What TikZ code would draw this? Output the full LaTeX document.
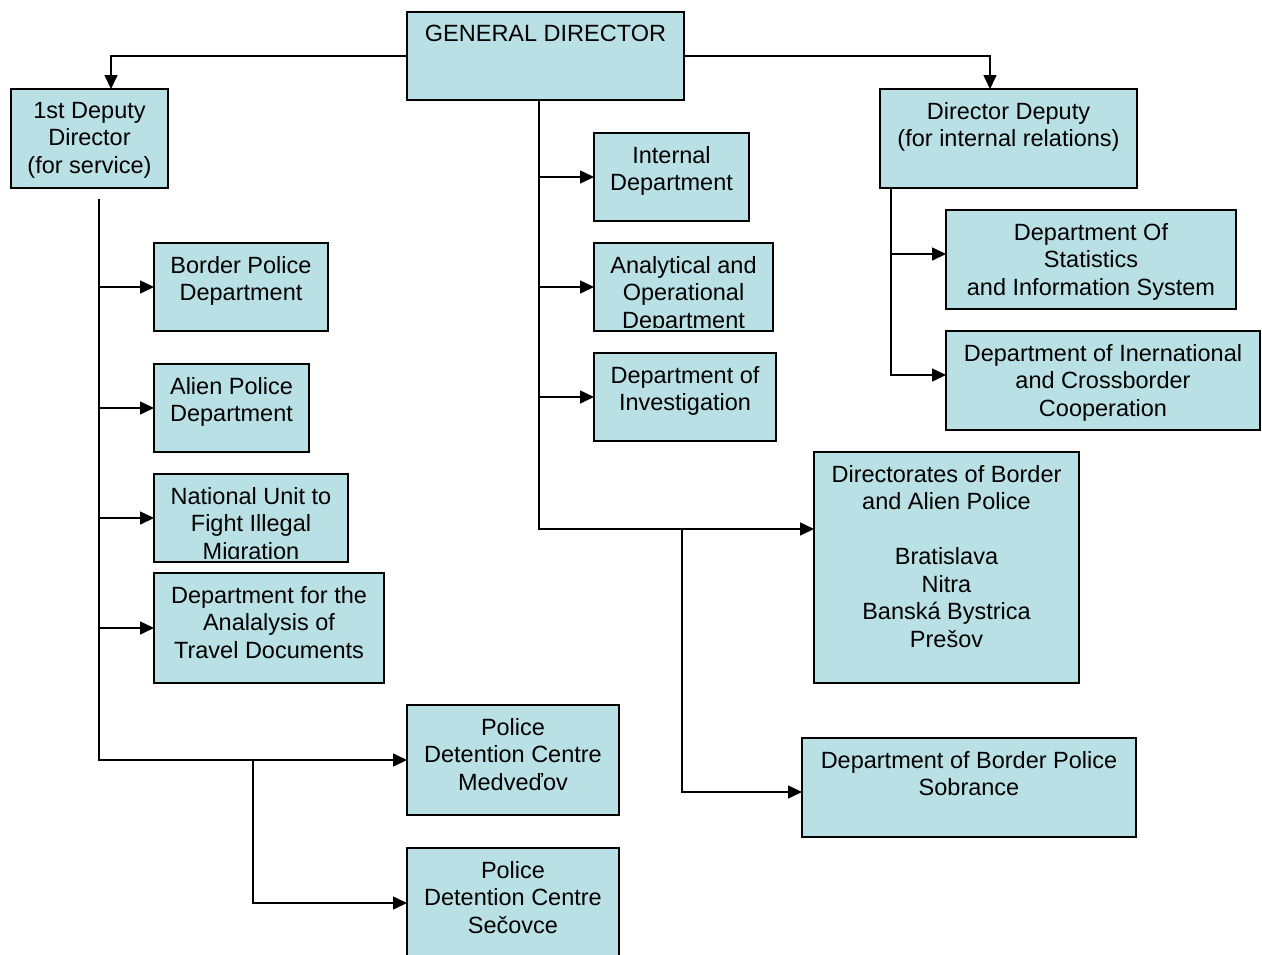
\documentclass[tikz,border=0pt]{standalone}
\usepackage{fontspec}
\setmainfont{Liberation Sans}
\usetikzlibrary{arrows.meta}
\definecolor{boxfill}{RGB}{185,224,228}
\newcommand\orgbox[6]{%
  \node[orgb, minimum width={(#4)-(#2)}, minimum height={(#5)-(#3)}]
    (#1) at ({((#2)+(#4))/2},{((#3)+(#5))/2}) {};
  \begin{scope}
    \clip ({(#2)+1},{(#3)+1}) rectangle ({(#4)-1},{(#5)-4});
    \node[orgt] (#1-t) at ({((#2)+(#4))/2},{(#3)+13}) {#6};
  \end{scope}}
\begin{document}
\begin{tikzpicture}[x=1pt,y=-1pt,
  orgb/.style={draw, line width=1.6pt, fill=boxfill, inner sep=0pt, outer sep=0pt},
  orgt/.style={anchor=north, align=center, inner sep=0pt, font=\fontsize{23.5}{27.5}\selectfont},
  conn/.style={line width=1.6pt},
  arr/.style={conn, -{Triangle[length=14pt,width=13pt]}}]
\useasboundingbox (0,0) rectangle (1262,954);
\clip (0,0) rectangle (1262,954);

\orgbox{gd}{407}{12}{684}{100}{GENERAL DIRECTOR}
\orgbox{dep1}{11}{89}{168}{188}{1st Deputy\\Director\\(for service)}
\orgbox{dd}{880}{89}{1137}{188}{Director Deputy\\(for internal relations)}
\orgbox{intd}{594}{133}{749}{221}{Internal\\Department}
\orgbox{anad}{594}{243}{773}{331}{Analytical and\\Operational\\Department}
\orgbox{invd}{594}{353}{776}{441}{Department of\\Investigation}
\orgbox{bpd}{154}{243}{328}{331}{Border Police\\Department}
\orgbox{apd}{154}{364}{309}{452}{Alien Police\\Department}
\orgbox{nu}{154}{474}{348}{562}{National Unit to\\Fight Illegal\\Migration}
\orgbox{atd}{154}{573}{384}{683}{Department for the\\Analalysis of\\Travel Documents}
\orgbox{med}{407}{705}{619}{815}{Police\\Detention Centre\\Medveďov}
\orgbox{sec}{407}{848}{619}{990}{Police\\Detention Centre\\Sečovce}
\orgbox{stat}{946}{210}{1236}{309}{Department Of\\Statistics\\and Information System}
\orgbox{intl}{946}{331}{1260}{430}{Department of Inernational\\and Crossborder\\Cooperation}
\orgbox{dir}{814}{452}{1079}{683}{Directorates of Border\\and Alien Police\\\mbox{}\\Bratislava\\Nitra\\Banská Bystrica\\Prešov}
\orgbox{sob}{802}{738}{1136}{837}{Department of Border Police\\Sobrance}

% general director connections
\draw[arr] (gd.west) -| ([xshift=21.5pt]dep1.north);
\draw[arr] (gd.east) -| ([xshift=-18.5pt]dd.north);
\coordinate (gt) at ([xshift=-6.5pt]gd.south);
\coordinate (da) at ([yshift=38.5pt]dir.west);
\draw[arr] (gt) |- (da);
\foreach \n in {intd,anad,invd}{\draw[arr] (gt |- \n.west) -- (\n.west);}
\coordinate (j2) at (682,529);
\draw[arr] (j2) |- ([yshift=-4.5pt]sob.west);

% first deputy
\coordinate (dt) at ([xshift=9.5pt,yshift=-11pt]dep1.south);
\draw[arr] (dt) |- (med.west);
\foreach \n in {bpd,apd,nu,atd}{\draw[arr] (dt |- \n.west) -- (\n.west);}
\coordinate (j3) at (253,760);
\draw[arr] (j3) |- ([yshift=16pt]sec.west);

% director deputy
\coordinate (rt) at ([xshift=-117.5pt]dd.south);
\coordinate (sa) at ([yshift=5.5pt]stat.west);
\coordinate (ia) at ([yshift=5.5pt]intl.west);
\draw[arr] (rt) |- (ia);
\draw[arr] (sa -| rt) -- (sa);
\end{tikzpicture}
\end{document}
